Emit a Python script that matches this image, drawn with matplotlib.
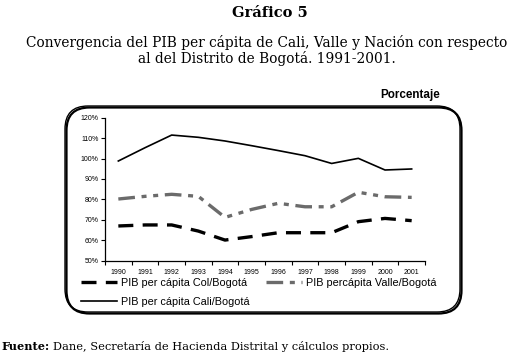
import matplotlib.pyplot as plt
from matplotlib.patches import FancyBboxPatch
from matplotlib.ticker import FixedLocator, NullFormatter

years = ['1990', '1991', '1992', '1993', '1994', '1995', '1996', '1997', '1998', '1999', '2000', '2001']
col_bogota = [67.0, 67.5, 67.5, 64.5, 60.1, 61.8, 63.7, 63.7, 63.7, 69.1, 70.7, 69.6]
valle_bogota = [80.2, 81.5, 82.5, 81.5, 71.2, 75.1, 78.1, 76.4, 76.4, 83.5, 81.3, 81.0]
cali_bogota = [98.8, 105.3, 111.5, 110.4, 108.6, 106.3, 103.9, 101.4, 97.6, 100.1, 94.4, 94.9]
yticks = [50, 60, 70, 80, 90, 100, 110, 120]

W, H = 511, 362
fig = plt.figure(figsize=(W / 100, H / 100), dpi=100)

def fx(px):
    return px / W

def fy(py):
    return 1 - py / H

# rounded frame, a bit heavier on the right/bottom like a drop shadow
shadow = FancyBboxPatch((fx(66.5), fy(313.5)), fx(395), fy(107.5) - fy(313.5),
                        boxstyle='round,pad=0,rounding_size=0.045',
                        transform=fig.transFigure, fill=False, lw=1.6,
                        ec='black', mutation_aspect=W / H)
frame = FancyBboxPatch((fx(65), fy(312)), fx(395), fy(106) - fy(312),
                       boxstyle='round,pad=0,rounding_size=0.045',
                       transform=fig.transFigure, fill=False, lw=1.0,
                       ec='black', mutation_aspect=W / H)
fig.patches.extend([shadow, frame])

ax = fig.add_axes([fx(105), fy(260.7), fx(425) - fx(105), fy(117.7) - fy(260.7)])
x = list(range(len(years)))

l1, = ax.plot(x, col_bogota, color='black', lw=2.4, dashes=(4.5, 2.8),
              label='PIB per cápita Col/Bogotá')
l2, = ax.plot(x, valle_bogota, color='#6b6b6b', lw=2.4, dashes=(5, 2, 1.5, 2, 1.5, 2),
              label='PIB percápita Valle/Bogotá')
l3, = ax.plot(x, cali_bogota, color='black', lw=1.2, label='PIB per cápita Cali/Bogotá')

ax.set_xlim(-0.5, len(years) - 0.5)
ax.set_ylim(50, 120)
ax.set_yticks(yticks)
ax.set_yticklabels([f'{v}%' for v in yticks])
ax.set_xticks(x)
ax.set_xticklabels(years)
ax.xaxis.set_minor_locator(FixedLocator([i + 0.5 for i in range(-1, len(years))]))
ax.xaxis.set_minor_formatter(NullFormatter())
ax.tick_params(axis='x', which='major', length=0, labelsize=5, pad=6)
ax.tick_params(axis='x', which='minor', length=3, width=0.8, direction='out')
ax.tick_params(axis='y', length=3, width=0.8, labelsize=5, pad=1.5)
for s in ['top', 'right']:
    ax.spines[s].set_visible(False)
for s in ['left', 'bottom']:
    ax.spines[s].set_linewidth(0.9)
for lab in ax.get_xticklabels() + ax.get_yticklabels():
    lab.set_family('Liberation Sans')

fig.legend([l1, l3, l2], [l1.get_label(), l3.get_label(), l2.get_label()],
           ncol=2, loc='upper left', bbox_to_anchor=(fx(81), fy(278)),
           frameon=False, prop={'family': 'Liberation Sans', 'size': 7.8},
           handlelength=3.3, handletextpad=0.4, columnspacing=1.5,
           labelspacing=0.85, borderaxespad=0, borderpad=0)

fig.text(fx(270), fy(13), 'Gráfico 5', ha='center', va='center',
         family='DejaVu Serif', weight='bold', fontsize=10.5)
fig.text(fx(267), fy(42), 'Convergencia del PIB per cápita de Cali, Valle y Nación con respecto',
         ha='center', va='center', family='DejaVu Serif', fontsize=9.9)
fig.text(fx(267), fy(59), 'al del Distrito de Bogotá. 1991-2001.',
         ha='center', va='center', family='DejaVu Serif', fontsize=9.9)
fig.text(fx(440), fy(95), 'Porcentaje', ha='right', va='center',
         family='Liberation Sans', weight='bold', fontsize=8.4)
fig.text(fx(1), fy(346), 'Fuente:', ha='left', va='center',
         family='DejaVu Serif', weight='bold', fontsize=8.1)
fig.text(fx(53), fy(346), 'Dane, Secretaría de Hacienda Distrital y cálculos propios.',
         ha='left', va='center', family='DejaVu Serif', fontsize=8.2)

fig.savefig('out.png', dpi=100)
